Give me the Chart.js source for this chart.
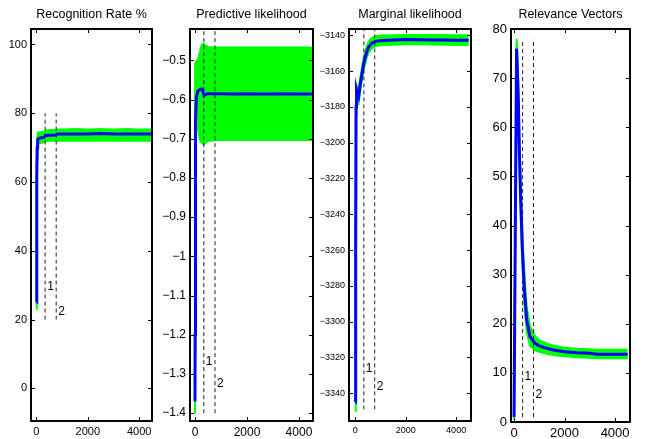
<!DOCTYPE html>
<html><head><meta charset="utf-8">
<script src="https://cdn.jsdelivr.net/npm/chart.js@4"></script>
<style>
html,body{margin:0;padding:0;background:#fff;width:649px;height:439px;overflow:hidden}
canvas{position:absolute;left:0;top:0}
</style></head>
<body>
<canvas id="c1" width="649" height="439"></canvas>
<canvas id="c2" width="649" height="439"></canvas>
<canvas id="c3" width="649" height="439"></canvas>
<canvas id="c4" width="649" height="439"></canvas>
<script>
// ---------- shared ----------
const xTicks = [0, 2000, 4000];
const markerX = [340, 770];
const markerLabels = ['1', '2'];

// ---------- Panel 1: Recognition Rate % ----------
const recTitle = 'Recognition Rate %';
const recX     = [0, 10, 20, 30, 50, 100, 200, 300, 350, 500, 750, 800, 1000, 1500, 2000, 2500, 3000, 3500, 4000, 4500];
const recMean  = [25, 45, 62, 70, 72.3, 72.7, 72.9, 73.0, 73.5, 73.6, 73.7, 74.0, 74.0, 74.0, 74.0, 74.1, 74.0, 74.0, 74.0, 74.0];
const recUpper = [25.5, 47, 65, 73, 74.3, 74.4, 74.5, 74.6, 75.0, 75.1, 75.2, 75.3, 75.3, 75.4, 75.3, 75.4, 75.3, 75.4, 75.3, 75.3];
const recLower = [23, 43, 59, 67, 71.2, 71.3, 71.4, 71.6, 71.9, 72.0, 72.0, 72.1, 72.0, 72.1, 72.0, 72.1, 72.0, 72.1, 72.0, 72.0];
const recYTicks = [0, 20, 40, 60, 80, 100];
const recDashY  = [20, 80];
const recLabelY = [29.5, 22.3];

// ---------- Panel 2: Predictive likelihood ----------
const predTitle = 'Predictive likelihood';
const predX     = [0, 5, 10, 20, 30, 50, 100, 150, 200, 250, 300, 350, 400, 500, 800, 1000, 1500, 2000, 2500, 3000, 3500, 4000, 4500];
const predMean  = [-1.37, -1.2, -1.0, -0.8, -0.66, -0.595, -0.58, -0.576, -0.574, -0.573, -0.578, -0.59, -0.587, -0.585, -0.585, -0.585, -0.586, -0.585, -0.586, -0.586, -0.585, -0.586, -0.586];
const predUpper = [-1.36, -0.51, -0.51, -0.508, -0.505, -0.503, -0.50, -0.49, -0.475, -0.462, -0.458, -0.458, -0.462, -0.466, -0.467, -0.467, -0.467, -0.467, -0.467, -0.467, -0.467, -0.467, -0.467];
const predLower = [-1.40, -1.25, -1.05, -0.85, -0.70, -0.655, -0.67, -0.69, -0.705, -0.71, -0.713, -0.714, -0.710, -0.706, -0.704, -0.703, -0.703, -0.703, -0.703, -0.703, -0.703, -0.703, -0.703];
const predYTicks = [-1.4, -1.3, -1.2, -1.1, -1, -0.9, -0.8, -0.7, -0.6, -0.5];
const predDashY  = [-1.4, -0.42];
const predLabelY = [-1.269, -1.324];

// ---------- Panel 3: Marginal likelihood ----------
const margTitle = 'Marginal likelihood';
const margX     = [0, 15, 30, 50, 80, 130, 200, 330, 450, 530, 650, 800, 1000, 1500, 2000, 2500, 3000, 3500, 4000, 4500];
const margMean  = [-3345, -3260, -3180, -3171, -3173, -3174.5, -3167, -3156, -3149.5, -3146.5, -3144.5, -3143.4, -3143, -3142.7, -3142.4, -3142.5, -3142.6, -3142.7, -3142.8, -3142.8];
const margUpper = [-3343, -3256, -3176, -3168, -3169, -3171, -3163.5, -3152.5, -3146.5, -3143.5, -3141.5, -3140.5, -3140.2, -3140, -3139.8, -3139.8, -3139.9, -3139.9, -3140, -3140];
const margLower = [-3350, -3264, -3184, -3174, -3177, -3178, -3170.5, -3159.5, -3152.5, -3149.5, -3147.5, -3146, -3145.6, -3145.3, -3145, -3145, -3145.2, -3145.3, -3145.4, -3145.4];
const margYTicks = [-3340, -3320, -3300, -3280, -3260, -3240, -3220, -3200, -3180, -3160, -3140];
const margDashY  = [-3349, -3136];
const margLabelY = [-3326, -3336.5];

// ---------- Panel 4: Relevance Vectors ----------
const relTitle = 'Relevance Vectors';
const relX     = [0, 50, 100, 130, 170, 210, 265, 330, 410, 500, 630, 830, 1000, 1300, 1600, 2000, 2500, 3000, 3300, 3800, 4500];
const relMean  = [1, 39, 76, 72, 65.5, 55.4, 45.2, 35, 26.9, 20.8, 17.4, 16.0, 15.5, 15.0, 14.6, 14.3, 14.1, 14.0, 13.8, 13.8, 13.8];
const relUpper = [1.5, 41, 78, 75, 68.5, 58.5, 48.5, 38.5, 30, 23.5, 19.5, 17.5, 16.6, 16.0, 15.5, 15.1, 14.9, 14.8, 14.7, 14.7, 14.7];
const relLower = [0.5, 37, 74, 69, 62.5, 52.5, 42, 32, 24, 18.5, 15.5, 14.6, 14.3, 13.9, 13.6, 13.4, 13.2, 13.1, 13.0, 13.0, 13.0];
const relYTicks = [0, 10, 20, 30, 40, 50, 60, 70, 80];
const relDashY  = [1, 78];
const relLabelY = [9.2, 5.5];

// ---------- drawing ----------
const FONT = '"Liberation Sans", Arial, Helvetica, sans-serif';
const zip = (xs, ys) => xs.map((x, i) => ({x: x, y: ys[i]}));
const fmt = v => String(v).replace('-', '\u2212');

function framePlugin(p) {
  return {
    id: 'frame' + p.id,
    afterDraw(chart) {
      const ctx = chart.ctx, a = chart.chartArea;
      const xs = chart.scales.x, ys = chart.scales.y;
      ctx.save();
      // inward ticks
      ctx.strokeStyle = '#000'; ctx.lineWidth = 1;
      ctx.beginPath();
      p.yTicks.forEach(v => {
        const y = Math.round(ys.getPixelForValue(v)) + 0.5;
        ctx.moveTo(a.left, y); ctx.lineTo(a.left + 4, y);
        ctx.moveTo(a.right, y); ctx.lineTo(a.right - 4, y);
      });
      xTicks.forEach(v => {
        const x = Math.round(xs.getPixelForValue(v)) + 0.5;
        ctx.moveTo(x, a.bottom); ctx.lineTo(x, a.bottom - 4);
        ctx.moveTo(x, a.top); ctx.lineTo(x, a.top + 4);
      });
      ctx.stroke();
      // box
      ctx.lineWidth = 2;
      ctx.strokeRect(a.left, a.top, a.right - a.left, a.bottom - a.top);
      // marker labels
      ctx.fillStyle = '#000';
      ctx.font = '12px ' + FONT;
      ctx.textAlign = 'left'; ctx.textBaseline = 'middle';
      markerLabels.forEach((t, i) => {
        ctx.fillText(t, xs.getPixelForValue(markerX[i]) + 2, ys.getPixelForValue(p.labelY[i]));
      });
      // title
      ctx.font = '12.5px ' + FONT;
      ctx.textAlign = 'center';
      ctx.fillText(p.title, (a.left + a.right) / 2, 15);
      ctx.restore();
    }
  };
}

function makePanel(p) {
  const dash = (i) => ({
    data: [{x: markerX[i], y: p.dashY[0]}, {x: markerX[i], y: p.dashY[1]}],
    borderColor: '#222', borderDash: [4, 3], borderWidth: 1, pointRadius: 0, fill: false
  });
  new Chart(document.getElementById(p.id), {
    type: 'line',
    data: {datasets: [
      {data: zip(p.x, p.mean), borderColor: '#0000ff', borderWidth: 3, pointRadius: 0, fill: false},
      dash(0), dash(1),
      {data: zip(p.x, p.upper), borderColor: '#00ff00', backgroundColor: '#00ff00', borderWidth: 2, pointRadius: 0, fill: '+1'},
      {data: zip(p.x, p.lower), borderColor: '#00ff00', borderWidth: 2, pointRadius: 0, fill: false}
    ]},
    options: {
      responsive: false, animation: false, devicePixelRatio: 1,
      layout: {padding: {left: p.L - 45, right: 649 - p.R, top: p.T, bottom: 439 - p.B - 20}},
      plugins: {legend: {display: false}, tooltip: {enabled: false}, title: {display: false}},
      elements: {line: {tension: 0}},
      scales: {
        x: {
          type: 'linear', min: p.xmin, max: p.xmax,
          grid: {display: false, drawTicks: false}, border: {display: false},
          afterBuildTicks: s => { s.ticks = xTicks.map(v => ({value: v})); },
          afterFit: s => { s.height = 20; },
          ticks: {font: {family: FONT, size: p.fs}, color: '#000', padding: 4, maxRotation: 0, autoSkip: false, callback: v => fmt(v)}
        },
        y: {
          type: 'linear', min: p.ymin, max: p.ymax,
          grid: {display: false, drawTicks: false}, border: {display: false},
          afterBuildTicks: s => { s.ticks = p.yTicks.map(v => ({value: v})); },
          afterFit: s => { s.width = 45; },
          ticks: {font: {family: FONT, size: p.fs}, color: '#000', padding: 4, autoSkip: false, callback: v => fmt(v)}
        }
      }
    },
    plugins: [framePlugin(p)]
  });
}

makePanel({id: 'c1', title: recTitle, x: recX, mean: recMean, upper: recUpper, lower: recLower,
  yTicks: recYTicks, dashY: recDashY, labelY: recLabelY,
  L: 31, R: 152, T: 29, B: 421, xmin: -210, xmax: 4500, ymin: -9.5, ymax: 104.5, fs: 11});
makePanel({id: 'c2', title: predTitle, x: predX, mean: predMean, upper: predUpper, lower: predLower,
  yTicks: predYTicks, dashY: predDashY, labelY: predLabelY,
  L: 190, R: 313, T: 29, B: 421, xmin: -192, xmax: 4540, ymin: -1.42, ymax: -0.42, fs: 12});
makePanel({id: 'c3', title: margTitle, x: margX, mean: margMean, upper: margUpper, lower: margLower,
  yTicks: margYTicks, dashY: margDashY, labelY: margLabelY,
  L: 349, R: 471, T: 29, B: 421, xmin: -250, xmax: 4590, ymin: -3355.5, ymax: -3136.5, fs: 9});
makePanel({id: 'c4', title: relTitle, x: relX, mean: relMean, upper: relUpper, lower: relLower,
  yTicks: relYTicks, dashY: relDashY, labelY: relLabelY,
  L: 511, R: 630, T: 29, B: 422, xmin: -120, xmax: 4590, ymin: 0, ymax: 80, fs: 13});
</script>
</body></html>
